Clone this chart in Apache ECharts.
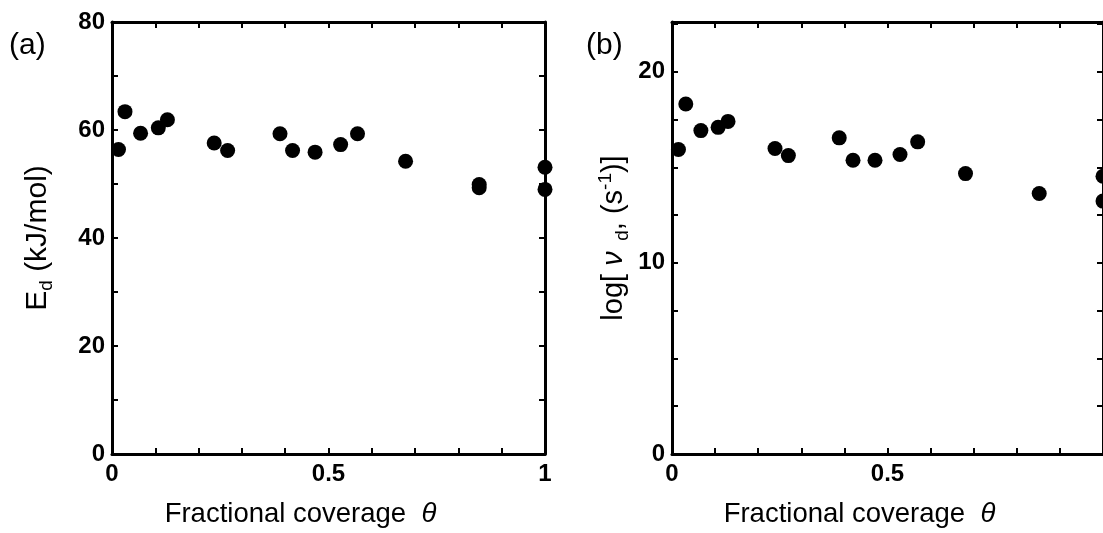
<!DOCTYPE html>
<html>
<head>
<meta charset="utf-8">
<script src="https://cdn.jsdelivr.net/npm/echarts@6/dist/echarts.min.js"></script>
<style>
html,body{margin:0;padding:0;background:#fff;}
#chart{width:1103px;height:533px;}
</style>
</head>
<body>
<div id="chart"></div>
<script>
// Panel (a): desorption energy vs fractional coverage
var thetaA = [0.015, 0.030, 0.066, 0.107, 0.128, 0.236, 0.267, 0.388, 0.417, 0.469, 0.528, 0.567, 0.678, 0.848, 0.848, 1.0, 1.0];
var edA    = [56.4, 63.4, 59.4, 60.4, 61.9, 57.6, 56.2, 59.3, 56.2, 55.9, 57.3, 59.3, 54.2, 49.9, 49.3, 53.1, 49.0];
// Panel (b): log pre-exponential factor vs fractional coverage
var thetaB  = [0.015, 0.032, 0.067, 0.107, 0.130, 0.239, 0.270, 0.388, 0.420, 0.471, 0.529, 0.570, 0.681, 0.852, 1.0, 1.0];
var logNuB  = [15.93, 18.31, 16.92, 17.09, 17.40, 15.98, 15.61, 16.54, 15.37, 15.37, 15.67, 16.33, 14.67, 13.63, 14.53, 13.23];
// tick labels
var xTickLabels = [0, 0.5, 1];
var yTickLabelsA = [0, 20, 40, 60, 80];
var yTickLabelsB = [0, 10, 20];

var FONT = 'Liberation Sans';
function inList(list, v){ for (var i=0;i<list.length;i++){ if (Math.abs(list[i]-v) < 1e-6) return true; } return false; }

var lineStyle = {color:'#000', width:3};
var tickStyle = {color:'#000', width:2};
var labelStyle = {color:'#000', fontFamily:FONT, fontWeight:'bold', fontSize:24};

function xAxisDef(grid, pos, showLabels, hideMax){
  return {
    type:'value', gridIndex:grid, position:pos, min:0, max:1, interval:0.5,
    axisLine:{show:true, onZero:false, lineStyle:lineStyle},
    axisTick:{show:true, inside:true, length:6, lineStyle:tickStyle},
    minorTick:{show:true, splitNumber:5, length:6, lineStyle:tickStyle},
    splitLine:{show:false},
    axisLabel:Object.assign({show:showLabels, margin:8, showMaxLabel: !hideMax,
      formatter:function(v){ return inList(xTickLabels, v) ? String(v) : ''; }}, labelStyle),
    name: showLabels ? '{t|Fractional coverage  }{th|θ}' : '',
    nameLocation:'middle', nameGap:46,
    nameTextStyle:{padding:[0,56,0,0], rich:{
      t:{fontFamily:FONT, fontSize:27.5, color:'#000'},
      th:{fontFamily:FONT, fontSize:27.5, fontStyle:'italic', color:'#000'}
    }}
  };
}

var option = {
  animation:false,
  backgroundColor:'#fff',
  grid:[
    {left:112, top:22, width:433, height:433},
    {left:672, top:22, width:433, height:433}
  ],
  xAxis:[
    xAxisDef(0,'bottom',true,false),
    xAxisDef(0,'top',false,false),
    xAxisDef(1,'bottom',true,true),
    xAxisDef(1,'top',false,false)
  ],
  yAxis:[
    {type:'value', gridIndex:0, position:'left', min:0, max:80, interval:20,
     axisLine:{show:true, onZero:false, lineStyle:lineStyle},
     axisTick:{show:true, inside:true, length:6, lineStyle:tickStyle},
     minorTick:{show:true, splitNumber:2, length:6, lineStyle:tickStyle},
     splitLine:{show:false},
     axisLabel:Object.assign({margin:7, formatter:function(v){ return inList(yTickLabelsA, v) ? String(v) : ''; }}, labelStyle),
     name:'{m|E}{s|d}{m| (kJ/mol)}', nameLocation:'middle', nameGap:56, nameRotate:90,
     nameTextStyle:{rich:{
       m:{fontFamily:FONT, fontSize:30, color:'#000', lineHeight:36, verticalAlign:'middle'},
       s:{fontFamily:FONT, fontSize:19, color:'#000', lineHeight:36, verticalAlign:'bottom'}
     }}
    },
    {type:'value', gridIndex:0, position:'right', min:0, max:80, interval:20,
     axisLine:{show:true, onZero:false, lineStyle:lineStyle},
     axisTick:{show:true, inside:true, length:6, lineStyle:tickStyle},
     minorTick:{show:true, splitNumber:2, length:6, lineStyle:tickStyle},
     splitLine:{show:false}, axisLabel:{show:false}
    },
    {type:'value', gridIndex:1, position:'left', min:0, max:22.6, interval:2.5,
     axisLine:{show:true, onZero:false, lineStyle:lineStyle},
     axisTick:{show:true, inside:true, length:6, lineStyle:tickStyle},
     splitLine:{show:false},
     axisLabel:Object.assign({margin:7, showMaxLabel:false, formatter:function(v){ return inList(yTickLabelsB, v) ? String(v) : ''; }}, labelStyle),
     name:'{m|log[ }{nu|ν}{s|  d}{m|, (s}{p|-1}{m|)]}', nameLocation:'middle', nameGap:40, nameRotate:90,
     nameTextStyle:{rich:{
       m:{fontFamily:FONT, fontSize:29, color:'#000', lineHeight:36, verticalAlign:'middle'},
       nu:{fontFamily:FONT, fontSize:29, fontStyle:'italic', color:'#000', lineHeight:36, verticalAlign:'middle'},
       s:{fontFamily:FONT, fontSize:19, color:'#000', lineHeight:36, verticalAlign:'bottom'},
       p:{fontFamily:FONT, fontSize:19, color:'#000', lineHeight:36, verticalAlign:'top'}
     }}
    },
    {type:'value', gridIndex:1, position:'right', min:0, max:22.6, interval:2.5,
     axisLine:{show:true, onZero:false, lineStyle:lineStyle},
     axisTick:{show:true, inside:true, length:6, lineStyle:tickStyle},
     splitLine:{show:false}, axisLabel:{show:false}
    }
  ],
  graphic:[
    {type:'text', left:9, top:31, style:{text:'(a)', fontFamily:FONT, fontSize:30, fill:'#000'}},
    {type:'text', left:586, top:31, style:{text:'(b)', fontFamily:FONT, fontSize:30, fill:'#000'}}
  ],
  series:[
    {type:'scatter', xAxisIndex:0, yAxisIndex:0, symbol:'circle', symbolSize:15, clip:false,
     itemStyle:{color:'#000', opacity:1}, data:thetaA.map(function(t,i){ return [t, edA[i]]; })},
    {type:'scatter', xAxisIndex:2, yAxisIndex:2, symbol:'circle', symbolSize:15, clip:false,
     itemStyle:{color:'#000', opacity:1}, data:thetaB.map(function(t,i){ return [t, logNuB[i]]; })}
  ]
};
var chart = echarts.init(document.getElementById('chart'), null, {renderer:'canvas'});
chart.setOption(option);
</script>
</body>
</html>
